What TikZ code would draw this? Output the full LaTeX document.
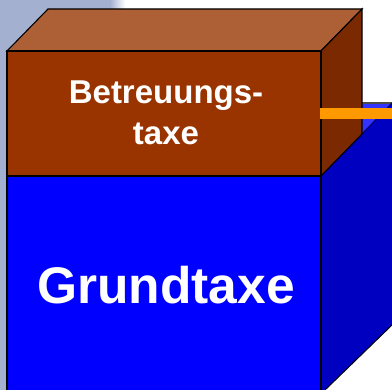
\documentclass[tikz,border=0pt]{standalone}
\usepackage{fontspec}
\setmainfont{Liberation Sans}
\definecolor{bgslate}{HTML}{A3B0D0}
\definecolor{frontbrown}{HTML}{993300}
\definecolor{topbrown}{HTML}{AD5F36}
\definecolor{sidebrown}{HTML}{7A2900}
\definecolor{frontblue}{HTML}{0000FF}
\definecolor{sideblue}{HTML}{0000C0}
\definecolor{topblue}{HTML}{3333FF}
\definecolor{barorange}{HTML}{FF9900}
\tikzset{
  face/.style={draw=black,line width=1.1pt,line join=miter},
  label/.style={text=white,align=center,inner sep=0pt},
}
\begin{document}
\begin{tikzpicture}[x=1pt,y=-1pt]
\useasboundingbox (0,0) rectangle (392,390);
\fill[white] (0,0) rectangle (392,390);
\fill[bgslate] (0,0) rectangle (111,390);
\shade[left color=bgslate,right color=white] (110,0) rectangle (125,390);
% lower block
\fill[topblue] (362,103) -- (392,103) -- (362,134) -- cycle;
\draw[line width=1.1pt,black!70] (362,103) -- (392,103);
\fill[sideblue] (321,176) -- (392,103) -- (392,325) -- (325,390) -- (321,390) -- cycle;
\draw[black,line width=1pt] (392,325) -- (325,390);
\draw[black!60!sideblue,line width=0.8pt] (321,176) -- (392,103);
\fill[frontblue] (7,176) rectangle (321,390);
\draw[face] (7,390) -- (7,176) -- (321,176) -- (321,390);
% upper block
\draw[face,fill=topbrown] (7,51) -- (48,9) -- (362,9) -- (321,51) -- cycle;
\draw[face,fill=sidebrown] (321,51) -- (362,9) -- (362,134) -- (321,176) -- cycle;
\draw[face,fill=frontbrown] (7,51) rectangle (321,176);
\fill[barorange] (320,108) rectangle (392,119);
\node[label,font=\bfseries\fontsize{33}{41}\selectfont] (betreuung) at (166,113) {Betreuungs-\\taxe};
\node[label,font=\bfseries\fontsize{51.5}{55}\selectfont] (grund) at (166,285) {Grundtaxe};
\end{tikzpicture}
\end{document}
